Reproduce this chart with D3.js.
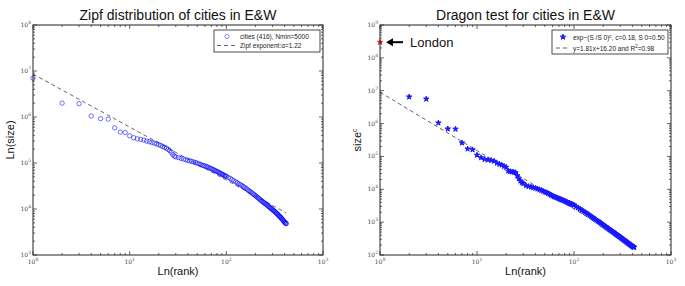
<!DOCTYPE html>
<html>
<head>
<meta charset="utf-8">
<script src="https://cdn.jsdelivr.net/npm/d3@7"></script>
<style>
  body { margin: 0; background: #fff; }
  text { font-family: "Liberation Sans", Arial, sans-serif; fill: #111; }
  .tick-label { font-family: "DejaVu Serif", serif; font-size: 6px; fill: #444; }
  .legend-text { font-size: 6.5px; fill: #222; }
</style>
</head>
<body>
<svg id="chart" width="685" height="286"></svg>
<script>
// ranks shared by both panels (416 cities, sampled)
const ranks = [
  1, 2, 3, 4, 5, 6, 7, 8, 9, 10, 11, 12, 13, 14, 15, 16, 17, 18, 19, 20,
  21, 22, 23, 24, 25, 26, 27, 28, 29, 30,
  32, 34, 36, 38, 40, 42, 44, 46, 48, 50, 52, 54, 56, 58, 60, 62, 64, 66, 68, 70,
  72, 74, 76, 78, 80, 82, 84, 86, 88, 90, 92, 94, 96, 98, 100,
  105, 110, 115, 120, 125, 130, 135, 140, 145, 150, 155, 160, 165, 170, 175, 180,
  185, 190, 195, 200, 205, 210, 215, 220, 225, 230, 235, 240, 245, 250, 255, 260,
  265, 270, 275, 280, 285, 290, 295, 300, 305, 310, 315, 320, 325, 330, 335, 340,
  345, 350, 355, 360, 365, 370, 375, 380, 385, 390, 395, 400, 405, 410, 415, 416
];

// city sizes (left panel)
const zipfSizes = [
  7000000, 2000000, 1950000, 1050000, 920000, 900000, 580000, 470000, 460000, 390000,
  355000, 335000, 325000, 315000, 300000, 290000, 280000, 270000, 260000, 250000,
  240000, 228000, 218000, 210000, 198000, 185000, 170000, 152000, 140000, 136000,
  131000, 126000, 122000, 118000, 114000, 111000, 108000, 105000, 102000, 99000,
  96000, 93000, 90000, 88000, 86000, 84000, 82000, 79000, 77000, 75000,
  73000, 71000, 69000, 67000, 65500, 64000, 62000, 60500, 59000, 57000,
  55500, 54500, 53000, 52000, 51000,
  48500, 46000, 43500, 41000, 38800, 37000, 35300, 33700, 32200, 30700, 29300, 27900,
  26500, 25200, 24100, 23100, 22100, 21200, 20300, 19500, 18700, 17900, 17200, 16500,
  15800, 15200, 14700, 14200, 13700, 13300, 12900, 12500, 12100, 11700, 11300, 10900,
  10600, 10300, 10000, 9700, 9400, 9150, 8900, 8650, 8400, 8150, 7900, 7650,
  7400, 7150, 6950, 6750, 6550, 6350, 6150, 5950, 5750, 5550, 5350, 5200,
  5050, 4950, 4850, 4800
];

// size^c values (right panel), rank 1 = London
const dragonValues = [
  300000000, 6500000, 5600000, 1050000, 690000, 680000, 260000, 170000, 160000, 110000,
  92000, 82000, 79000, 76000, 72000, 63000, 58000, 55000, 50000, 47000,
  36000, 35000, 34000, 33000, 32000, 26000, 21000, 18000, 16000, 15000,
  13000, 12200, 11800, 11300, 10800, 10300, 9800, 9300, 8800, 8300,
  7900, 7500, 7100, 6700, 6300, 6000, 5800, 5600, 5400, 5200,
  5000, 4850, 4700, 4550, 4400, 4250, 4100, 3950, 3850, 3750,
  3650, 3550, 3450, 3380, 3300,
  3000, 2750, 2520, 2320, 2150, 2000, 1860, 1730, 1610, 1500, 1400, 1310,
  1230, 1160, 1090, 1030, 975, 920, 870, 825, 785, 745, 710, 675,
  645, 615, 585, 560, 535, 515, 495, 475, 455, 437, 420, 404,
  389, 375, 361, 348, 336, 324, 313, 302, 292, 282, 273, 264,
  256, 248, 240, 233, 226, 219, 213, 207, 201, 196, 191, 186,
  181, 177, 173, 172
];

// fitted lines, endpoints
const zipfFit = [[1, 8600000], [416, 8200]];
const dragonFit = [[1, 9000000], [416, 200]];

const rankDomain = [1, 1000];
const zipfDomain = [1e3, 1e8];
const dragonDomain = [1e2, 1e9];

const svg = d3.select('#chart');

class LogPanel {
  constructor(svg, left, right, yDomain) {
    this.svg = svg;
    this.left = left;
    this.right = right;
    this.top = 25;
    this.bottom = 255;
    this.x = d3.scaleLog().domain(rankDomain).range([left, right]);
    this.y = d3.scaleLog().domain(yDomain).range([this.bottom, this.top]);
    this.g = svg.append('g');
  }

  isMajor(v) {
    const l = Math.log10(v);
    return Math.abs(l - Math.round(l)) < 1e-9;
  }

  drawTicks() {
    const g = this.g;
    this.x.ticks().forEach(v => {
      const px = this.x(v), len = this.isMajor(v) ? 4 : 2;
      g.append('line').attr('x1', px).attr('x2', px).attr('y1', this.bottom).attr('y2', this.bottom - len).attr('stroke', '#222').attr('stroke-width', 0.7);
      g.append('line').attr('x1', px).attr('x2', px).attr('y1', this.top).attr('y2', this.top + len).attr('stroke', '#222').attr('stroke-width', 0.7);
      if (this.isMajor(v)) {
        const t = g.append('text').attr('class', 'tick-label').attr('x', px).attr('y', this.bottom + 9).attr('text-anchor', 'middle');
        t.append('tspan').text('10');
        t.append('tspan').attr('dy', -3).attr('font-size', '4.5px').text(Math.round(Math.log10(v)));
      }
    });
    this.y.ticks().forEach(v => {
      const py = this.y(v), len = this.isMajor(v) ? 4 : 2;
      g.append('line').attr('x1', this.left).attr('x2', this.left + len).attr('y1', py).attr('y2', py).attr('stroke', '#222').attr('stroke-width', 0.7);
      g.append('line').attr('x1', this.right).attr('x2', this.right - len).attr('y1', py).attr('y2', py).attr('stroke', '#222').attr('stroke-width', 0.7);
      if (this.isMajor(v)) {
        const t = g.append('text').attr('class', 'tick-label').attr('x', this.left - 2).attr('y', py + 2).attr('text-anchor', 'end');
        t.append('tspan').text('10');
        t.append('tspan').attr('dy', -3).attr('font-size', '4.5px').text(Math.round(Math.log10(v)));
      }
    });
  }

  drawFrame() {
    this.g.append('rect').attr('x', this.left).attr('y', this.top)
      .attr('width', this.right - this.left).attr('height', this.bottom - this.top)
      .attr('fill', 'none').attr('stroke', '#222').attr('stroke-width', 1);
  }

  drawFit(points) {
    const line = d3.line().x(d => this.x(d[0])).y(d => this.y(d[1]));
    this.g.append('path').attr('d', line(points)).attr('fill', 'none')
      .attr('stroke', '#666').attr('stroke-width', 1).attr('stroke-dasharray', '4,3');
  }

  drawTitles(title, xLabel, yLabel, yLabelX) {
    const cx = (this.left + this.right) / 2;
    this.svg.append('text').attr('x', cx).attr('y', 20).attr('text-anchor', 'middle')
      .style('font-size', '14px').text(title);
    this.svg.append('text').attr('x', cx).attr('y', 275).attr('text-anchor', 'middle')
      .style('font-size', '11px').text(xLabel);
    const t = this.svg.append('text').attr('transform', `translate(${yLabelX}, 140) rotate(-90)`)
      .attr('text-anchor', 'middle').style('font-size', '11px');
    yLabel(t);
  }
}

// left panel: Zipf
const zipf = new LogPanel(svg, 33, 323, zipfDomain);
zipf.drawTitles('Zipf distribution of cities in E&W', 'Ln(rank)', t => t.text('Ln(size)'), 14);
zipf.drawFit(zipfFit);
zipf.g.selectAll('circle.city').data(ranks).enter().append('circle')
  .attr('class', 'city')
  .attr('cx', (r, i) => zipf.x(r))
  .attr('cy', (r, i) => zipf.y(zipfSizes[i]))
  .attr('r', 2.2)
  .attr('fill', 'none')
  .attr('stroke', '#0000ff')
  .attr('stroke-opacity', 0.55)
  .attr('stroke-width', 1);
zipf.drawTicks();
zipf.drawFrame();

// legend left
const legA = zipf.g.append('g');
legA.append('rect').attr('x', 214).attr('y', 30).attr('width', 106).attr('height', 22)
  .attr('fill', '#fff').attr('stroke', '#222').attr('stroke-width', 0.8);
legA.append('circle').attr('cx', 227).attr('cy', 36.5).attr('r', 2.1).attr('fill', 'none')
  .attr('stroke', '#0000ff').attr('stroke-opacity', 0.5).attr('stroke-width', 0.9);
legA.append('text').attr('class', 'legend-text').attr('x', 240).attr('y', 39).text('cities (416), Nmin=5000');
legA.append('line').attr('x1', 217).attr('x2', 237).attr('y1', 45.5).attr('y2', 45.5)
  .attr('stroke', '#666').attr('stroke-dasharray', '4,3');
legA.append('text').attr('class', 'legend-text').attr('x', 240).attr('y', 48).text('Zipf exponent:α=1.22');

// right panel: Dragon test
const dragon = new LogPanel(svg, 380, 671, dragonDomain);
dragon.drawTitles('Dragon test for cities in E&W', 'Ln(rank)', t => {
  t.append('tspan').text('size');
  t.append('tspan').attr('dy', -4).style('font-size', '7px').text('c');
}, 361);
dragon.drawFit(dragonFit);
const star = d3.symbol().type(d3.symbolStar).size(9);
dragon.g.selectAll('path.city').data(ranks).enter().append('path')
  .attr('class', 'city')
  .attr('d', star)
  .attr('transform', (r, i) => `translate(${dragon.x(r)},${dragon.y(dragonValues[i])})`)
  .attr('fill', (r, i) => i === 0 ? '#ff3030' : '#1a1aff')
  .attr('stroke', (r, i) => i === 0 ? '#ff3030' : '#1a1aff')
  .attr('stroke-width', 1);
dragon.drawTicks();
dragon.drawFrame();

// London annotation
const londonY = dragon.y(dragonValues[0]);
dragon.g.append('line').attr('x1', 403).attr('x2', 391).attr('y1', londonY).attr('y2', londonY)
  .attr('stroke', '#000').attr('stroke-width', 2);
dragon.g.append('path')
  .attr('d', `M386,${londonY} L393,${londonY - 4} L393,${londonY + 4} Z`).attr('fill', '#000');
dragon.g.append('text').attr('x', 410).attr('y', londonY + 4.5).style('font-size', '13px').text('London');

// legend right
const legB = dragon.g.append('g');
legB.append('rect').attr('x', 552).attr('y', 30).attr('width', 116).attr('height', 24)
  .attr('fill', '#fff').attr('stroke', '#222').attr('stroke-width', 0.8);
legB.append('path').attr('d', star).attr('transform', 'translate(563,37)').attr('fill', '#1a1aff')
  .attr('stroke', '#1a1aff').attr('stroke-width', 1);
const lb1 = legB.append('text').attr('class', 'legend-text').attr('x', 573).attr('y', 40);
lb1.append('tspan').text('exp−(S /S 0)');
lb1.append('tspan').attr('dy', -2.5).style('font-size', '4.5px').text('c');
lb1.append('tspan').attr('dy', 2.5).text(',  c=0.18, S 0=0.50');
legB.append('line').attr('x1', 556).attr('x2', 570).attr('y1', 48).attr('y2', 48)
  .attr('stroke', '#666').attr('stroke-dasharray', '4,3');
const lb2 = legB.append('text').attr('class', 'legend-text').attr('x', 573).attr('y', 50.5);
lb2.append('tspan').text('y=1.81x+16.20 and R');
lb2.append('tspan').attr('dy', -2.5).style('font-size', '4.5px').text('2');
lb2.append('tspan').attr('dy', 2.5).text('=0.98');
</script>
</body>
</html>
